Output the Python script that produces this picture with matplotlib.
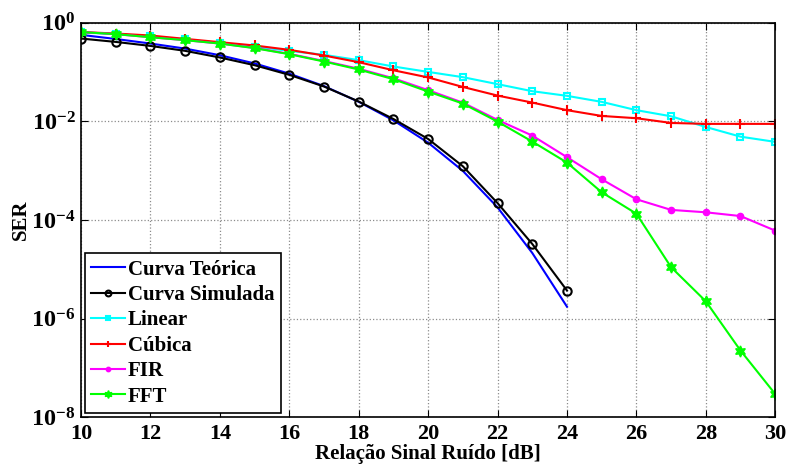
import numpy as np
import matplotlib
matplotlib.use('Agg')
import matplotlib.pyplot as plt

plt.rcParams['font.family'] = 'Liberation Serif'
plt.rcParams['font.weight'] = 'bold'
plt.rcParams['mathtext.fontset'] = 'custom'
plt.rcParams['mathtext.rm'] = 'Liberation Serif:bold'
plt.rcParams['mathtext.bf'] = 'Liberation Serif:bold'
plt.rcParams['mathtext.it'] = 'Liberation Serif:bold:italic'

# SNR axis [dB]
snr_teo = np.arange(10, 25)
snr_sim = np.arange(10, 25)
snr = np.arange(10, 31)

ser_teorica = [0.57, 0.47, 0.38, 0.30, 0.22, 0.150, 0.093, 0.052, 0.025,
               0.0105, 0.0037, 9.9e-4, 1.8e-4, 2.14e-5, 1.74e-6]
ser_simulada = [0.48, 0.41, 0.34, 0.27, 0.198, 0.138, 0.088, 0.051, 0.0253,
                0.0112, 0.0044, 0.00123, 2.2e-4, 3.26e-5, 3.7e-6]
ser_linear = [0.64, 0.59, 0.53, 0.46, 0.39, 0.33, 0.27, 0.224, 0.175, 0.13,
              0.101, 0.079, 0.057, 0.041, 0.033, 0.0249, 0.0169, 0.0127,
              0.0077, 0.0049, 0.00384]
ser_cubica = [0.65, 0.607, 0.553, 0.473, 0.405, 0.347, 0.283, 0.217, 0.159,
              0.109, 0.078, 0.050, 0.0334, 0.0241, 0.0169, 0.0129, 0.0116,
              0.0093, 0.0089, 0.0089, 0.0089]
ser_fir = [0.65, 0.59, 0.51, 0.445, 0.38, 0.31, 0.235, 0.168, 0.117, 0.075,
           0.043, 0.024, 0.0107, 0.00515, 0.00188, 6.7e-4, 2.63e-4, 1.6e-4,
           1.43e-4, 1.2e-4, 6.07e-5]
ser_fft = [0.65, 0.59, 0.51, 0.445, 0.38, 0.306, 0.231, 0.164, 0.113,
           0.0718, 0.0403, 0.023, 0.0099, 0.0039, 0.00146, 3.65e-4, 1.34e-4,
           1.1e-5, 2.24e-6, 2.24e-7, 2.94e-8]

fig = plt.figure(figsize=(7.87, 4.66), dpi=100)
ax = fig.add_axes([0.103, 0.105, 0.882, 0.846])

lw = 1.5
ax.semilogy(snr_teo, ser_teorica, '-', color='#0000ff', lw=lw,
            label='Curva Teórica')
ax.semilogy(snr_sim, ser_simulada, '-o', color='k', lw=lw, ms=6, mfc='none',
            mew=1.5, label='Curva Simulada')
ax.semilogy(snr, ser_linear, '-s', color='#00ffff', lw=lw, ms=5, mfc='none',
            mew=1.5, label='Linear')
ax.semilogy(snr, ser_cubica, '-+', color='#ff0000', lw=lw, ms=7, mew=1.5,
            label='Cúbica')
ax.semilogy(snr, ser_fir, linestyle='-', marker='.', color='#ff00ff', lw=lw,
            ms=9, label='FIR')
ax.semilogy(snr, ser_fft, '-', marker=(6, 1, 0), color='#00ff00', lw=lw,
            ms=8, label='FFT')

ax.set_xlim(10, 30)
ax.set_ylim(1e-8, 1e0)
ax.set_xticks(np.arange(10, 31, 2))
yt = [1e-8, 1e-6, 1e-4, 1e-2, 1e0]
ax.set_yticks(yt)
ax.set_yticklabels([r'$10^{%d}$' % int(np.log10(v)) for v in yt])
ax.yaxis.set_minor_locator(matplotlib.ticker.NullLocator())
ax.tick_params(direction='in', top=True, right=True, length=5)
ax.tick_params(axis='x', labelsize=16, pad=5)
ax.tick_params(axis='y', labelsize=17.5, pad=4)
ax.grid(True, linestyle=':', color='0.55', lw=0.9)
for s in ax.spines.values():
    s.set_linewidth(1.2)

ax.set_xlabel('Relação Sinal Ruído [dB]', fontsize=15, fontweight='bold',
              labelpad=0)
ax.set_ylabel('SER', fontsize=15, fontweight='bold', labelpad=0)

leg = ax.legend(loc='lower left', fontsize=15, handlelength=1.6,
                handletextpad=0.15, labelspacing=0.26, borderpad=0.3,
                borderaxespad=0.2, fancybox=False, framealpha=1,
                edgecolor='k', markerscale=0.7)
leg.get_frame().set_linewidth(1.2)

fig.savefig('out.png', dpi=100)
